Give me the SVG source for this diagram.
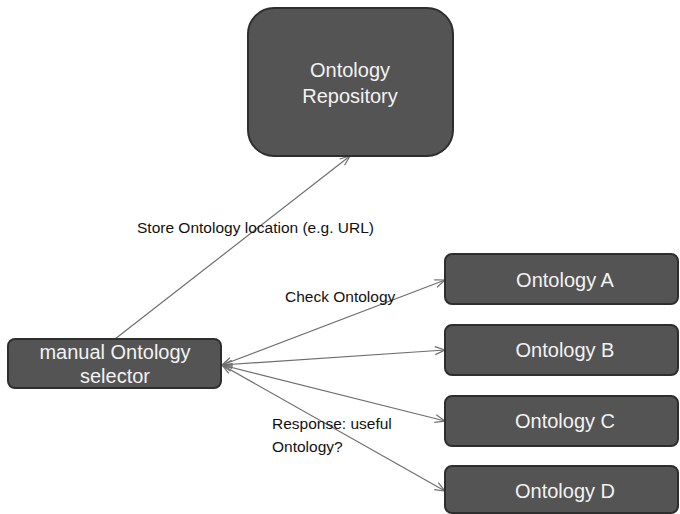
<svg xmlns="http://www.w3.org/2000/svg" width="680" height="514" viewBox="0 0 680 514">
<style>
.box{fill:#545454;stroke:#2e2e2e;stroke-width:2}
.nt{fill:#f2f2f2;font-family:"Liberation Sans",Arial,sans-serif;font-size:20px;text-anchor:middle}
.lbl{fill:#111;font-family:"Liberation Sans",Arial,sans-serif;font-size:15.5px}
.ln{stroke:#6e6e6e;stroke-width:1.2;fill:none}
</style>
<defs>
<marker id="ah" viewBox="0 0 12 10" refX="11" refY="5" markerWidth="12" markerHeight="10" markerUnits="userSpaceOnUse" orient="auto-start-reverse">
<path d="M1,1 L11,5 L1,9" fill="none" stroke="#6e6e6e" stroke-width="1.2"/>
</marker>
</defs>
<rect width="680" height="514" fill="#fff"/>
<g id="connectors">
<line class="ln" x1="115" y1="339" x2="350" y2="156" marker-end="url(#ah)"/>
<line class="ln" x1="222" y1="365" x2="445" y2="280" marker-start="url(#ah)" marker-end="url(#ah)"/>
<line class="ln" x1="222" y1="365" x2="445" y2="350" marker-start="url(#ah)" marker-end="url(#ah)"/>
<line class="ln" x1="222" y1="365" x2="445" y2="421" marker-start="url(#ah)" marker-end="url(#ah)"/>
<line class="ln" x1="222" y1="365" x2="445" y2="491" marker-start="url(#ah)" marker-end="url(#ah)"/>
<text class="lbl" x="137" y="233">Store Ontology location (e.g. URL)</text>
<text class="lbl" x="285" y="302">Check Ontology</text>
<text class="lbl" x="272" y="429">Response: useful</text>
<text class="lbl" x="272" y="452">Ontology?</text>
</g>
<g id="repository">
<rect class="box" x="248" y="8" width="205" height="148" rx="26"/>
<text class="nt" x="350" y="77">Ontology</text>
<text class="nt" x="350" y="103">Repository</text>
</g>
<g id="selector">
<rect class="box" x="8" y="339" width="213" height="49" rx="7"/>
<text class="nt" x="115" y="359">manual Ontology</text>
<text class="nt" x="115" y="383">selector</text>
</g>
<g id="ontA">
<rect class="box" x="445" y="254" width="233" height="50" rx="7"/>
<text class="nt" x="565" y="287">Ontology A</text>
</g>
<g id="ontB">
<rect class="box" x="445" y="325" width="233" height="50" rx="7"/>
<text class="nt" x="565" y="357">Ontology B</text>
</g>
<g id="ontC">
<rect class="box" x="445" y="396" width="233" height="50" rx="7"/>
<text class="nt" x="565" y="428">Ontology C</text>
</g>
<g id="ontD">
<rect class="box" x="445" y="466" width="233" height="47" rx="7"/>
<text class="nt" x="565" y="498">Ontology D</text>
</g>
</svg>
